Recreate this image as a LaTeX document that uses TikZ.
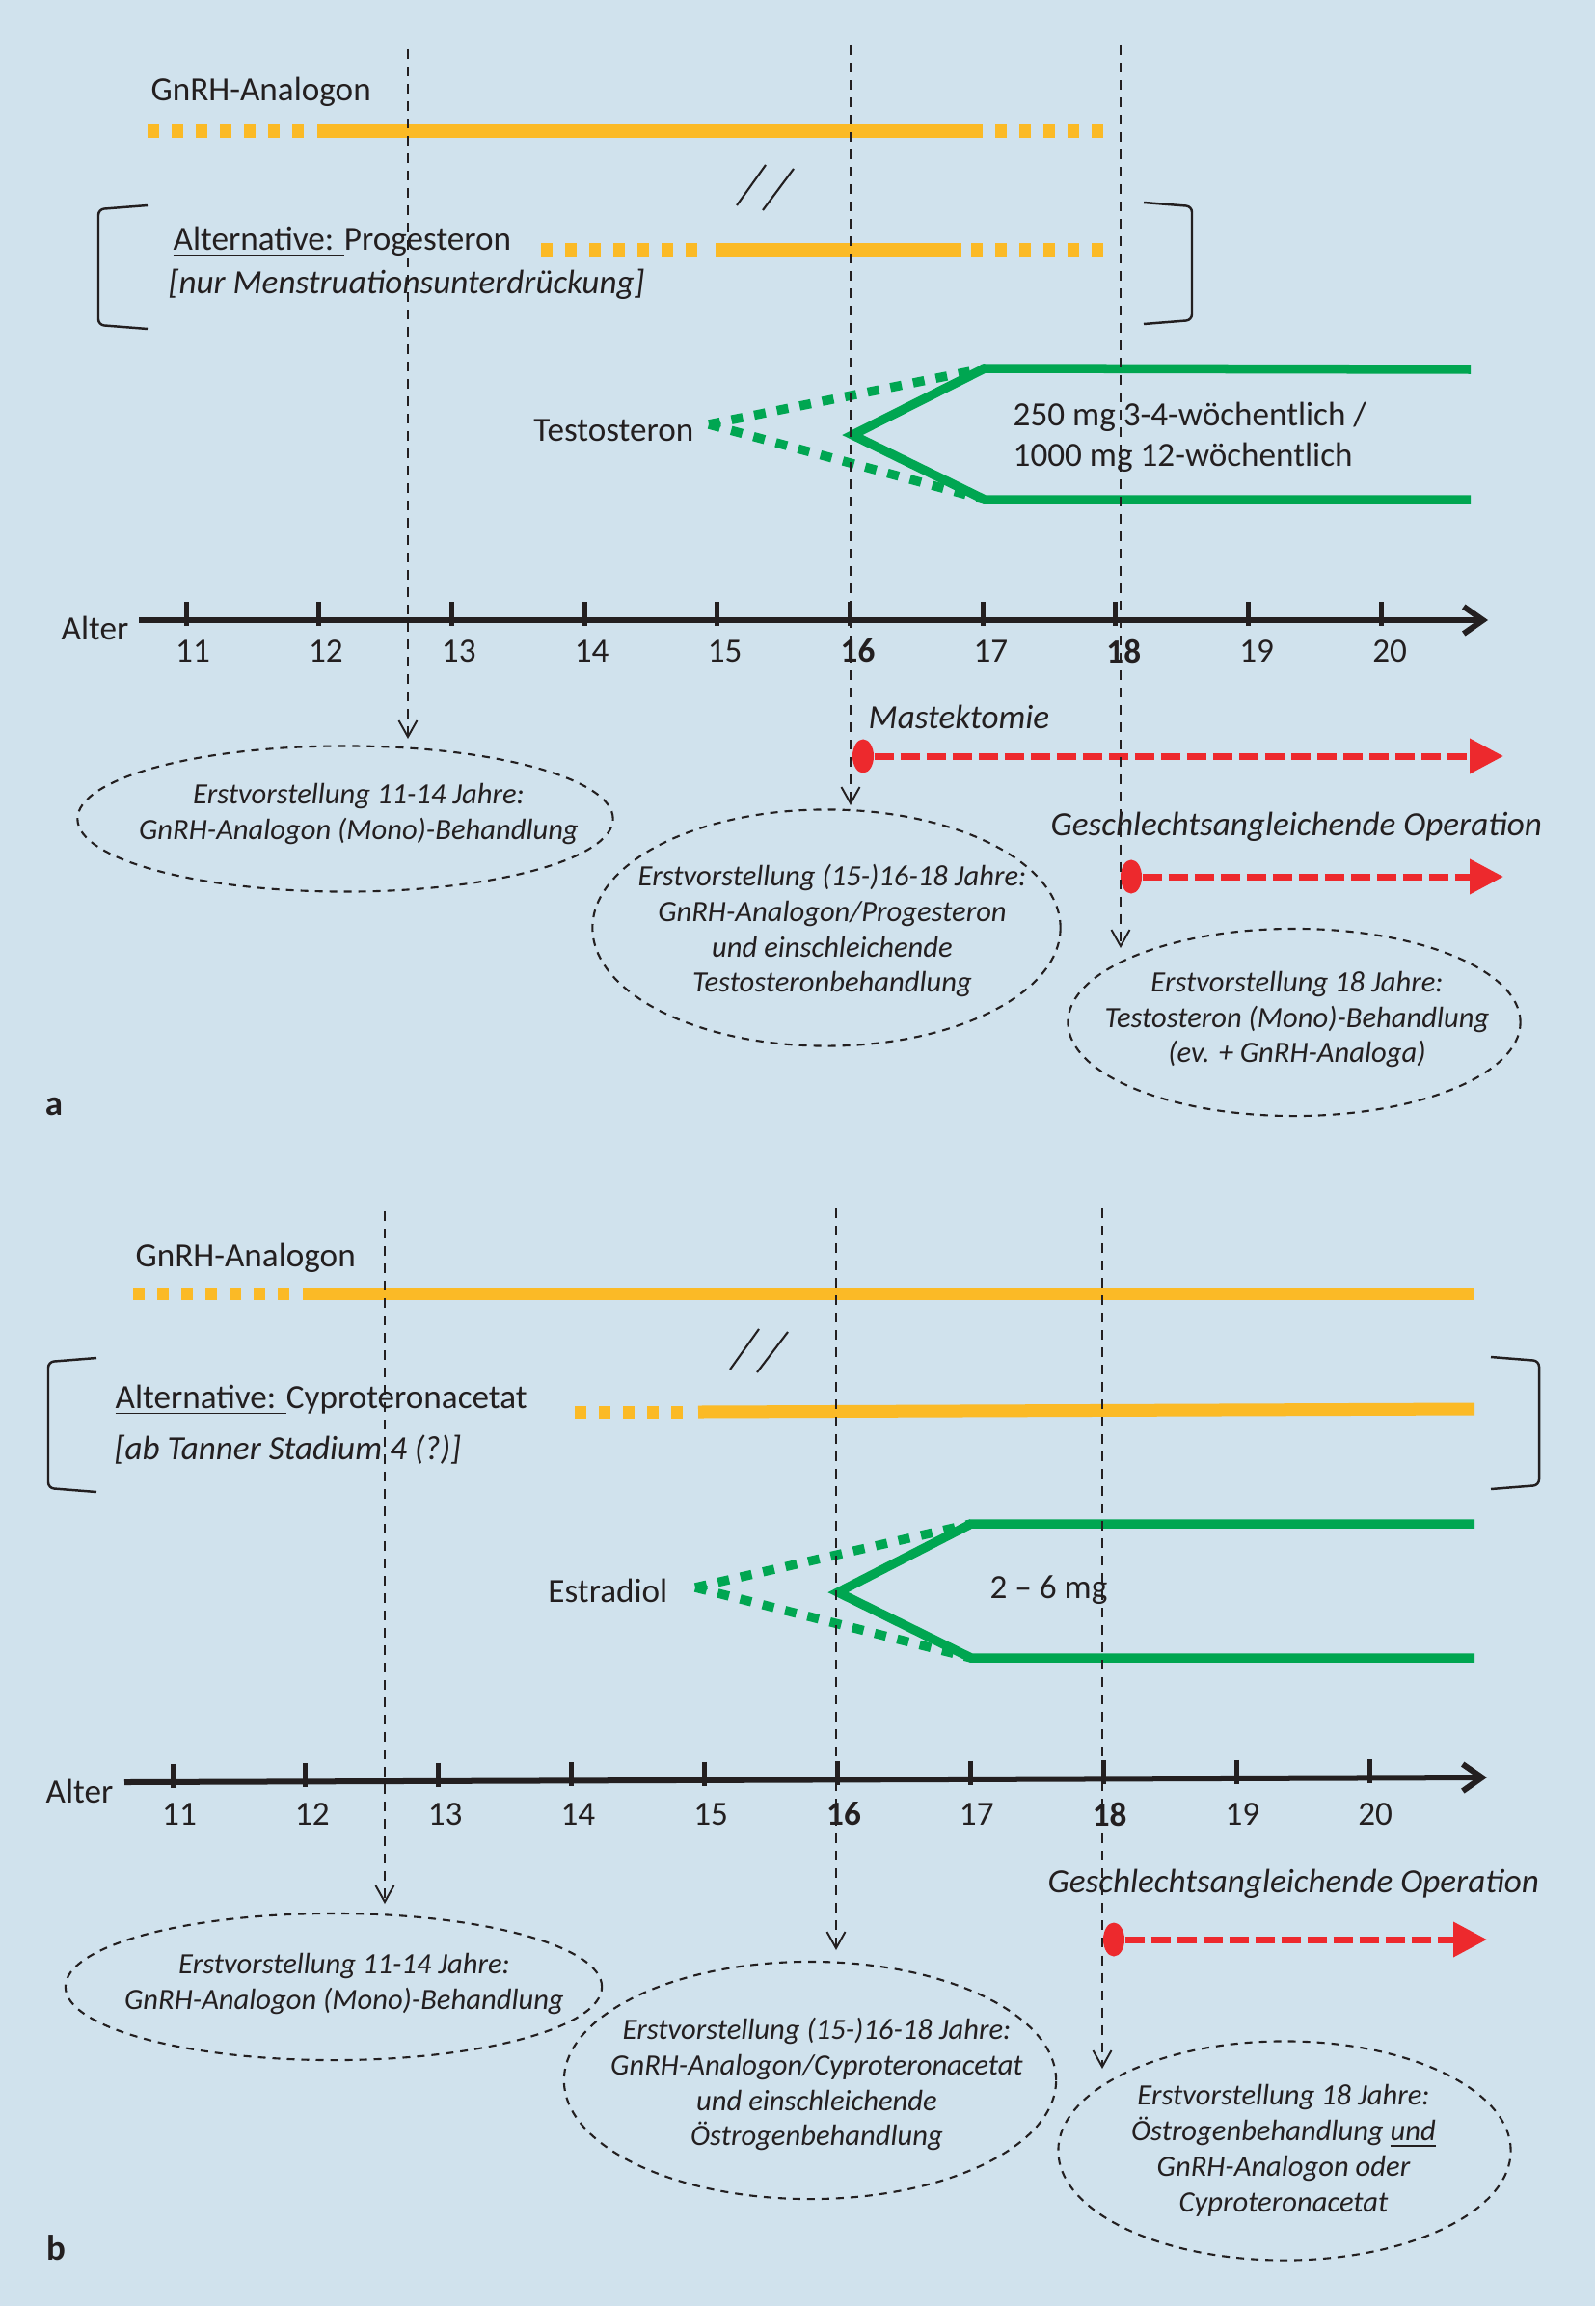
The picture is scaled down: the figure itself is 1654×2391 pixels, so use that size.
\documentclass[tikz,border=0pt]{standalone}
\usepackage{fontspec}
\setmainfont{Carlito}
\usetikzlibrary{arrows.meta,shapes.geometric}

\definecolor{panelbg}{RGB}{208,226,237}
\definecolor{gnrh}{RGB}{251,186,38}
\definecolor{hgreen}{RGB}{0,166,81}
\definecolor{opred}{RGB}{237,41,45}
\definecolor{ink}{RGB}{35,31,32}

\tikzset{
	lab/.style={font=\fontsize{10}{12}\selectfont, inner sep=0, text=ink},
	labit/.style={lab, font=\fontsize{10}{12}\selectfont\itshape},
	note/.style={font=\fontsize{8.7}{10.5}\selectfont\itshape, align=center, inner sep=0, text=ink},
	bar/.style={draw=gnrh, line width=0.13cm},
	bardash/.style={bar, dash pattern=on 0.12cm off 0.13cm},
	hormone/.style={draw=hgreen, line width=0.095cm},
	hormonedash/.style={hormone, dash pattern=on 0.12cm off 0.12cm},
	vline/.style={draw=ink, line width=0.55pt, dash pattern=on 0.1cm off 0.08cm, -{Straight Barb[length=0.17cm,width=0.19cm]}},
	oval/.style={ellipse, draw=ink, line width=0.6pt, dash pattern=on 0.08cm off 0.07cm, inner sep=0},
	surgery/.style={draw=opred, line width=0.07cm, dash pattern=on 0.2cm off 0.07cm, -{Triangle[length=0.35cm,width=0.35cm]}},
	opdot/.style={ellipse, fill=opred, minimum width=0.22cm, minimum height=0.35cm, inner sep=0},
	axis/.style={draw=ink, line width=0.06cm, -{Straight Barb[length=0.2cm,width=0.28cm]}},
	agetick/.style={draw=ink, line width=0.05cm},
	bracket/.style={draw=ink, line width=0.7pt, rounded corners=0.06cm},
	breakmark/.style={draw=ink, line width=0.6pt},
	panel/.style={font=\fontsize{10.5}{12}\selectfont\bfseries, inner sep=0, text=ink}
}

\begin{document}
\begin{tikzpicture}[x=0.01cm, y=-0.01cm]
	\useasboundingbox (0,0) rectangle (1654,2391);
	\fill[panelbg] (0,0) rectangle (1654,2391);

	% ---------- a ----------
	\node[lab, anchor=west] (gnrhA) at (156,95) {GnRH-Analogon};
	\draw[bardash] (153,136) -- (318,136);
	\draw[bar] (329,136) -- (1019,136);
	\draw[bardash] (1032,136) -- (1148,136);

	\draw[breakmark] (764,213) -- (794,171) (791,218) -- (823,175);

	\draw[bracket] (153,213) -- (102,217) -- (102,337) -- (153,341);
	\draw[bracket] (1186,210) -- (1236,214) -- (1236,332) -- (1186,336);
	\node[lab, anchor=west] (altA) at (179,251) {\underline{Alternative: }Progesteron};
	\node[labit, anchor=west] (altnoteA) at (174,295) {[nur Menstruationsunterdrückung]};
	\draw[bardash] (561,259) -- (728,259);
	\draw[bar] (742,259) -- (997,259);
	\draw[bardash] (1007,259) -- (1148,259);

	\node[lab, anchor=east] (testoA) at (720,446) {Testosteron};
	\coordinate (tA) at (735,440);
	\coordinate (upA) at (1021,382);
	\coordinate (loA) at (1021,518);
	\draw[hormonedash] (tA) -- (upA);
	\draw[hormonedash] (tA) -- (loA);
	\draw[hormone] (1525,383) -- (upA) -- (884,451) -- (loA) -- (1525,518);
	\node[lab, anchor=west, align=left] (doseA) at (1050,453) {250 mg 3-4-wöchentlich /\\1000 mg 12-wöchentlich};

	% axis
	\node[lab, anchor=east] (alterA) at (134,651) {Alter};
	\draw[axis] (144,643) -- (1543,643);
	\foreach \a [count=\i from 0] in {11,...,20}{
		\draw[agetick] (193+137.7*\i,624) -- (193+137.7*\i,649);
		\node[lab] (ageA\a) at (200+137.9*\i,675) {\ifnum\a=16 \bfseries\fi\ifnum\a=18 \bfseries\fi\a};
	}

	% operations
	\node[labit, anchor=west] (mastA) at (900,743) {Mastektomie};
	\node[opdot] (mastdotA) at (895,784) {};
	\coordinate (mastendA) at (1559,784);
	\draw[surgery] (mastdotA) -- (mastendA);
	\node[labit, anchor=west] (opA) at (1089,857) {Geschlechtsangleichende Operation};
	\node[opdot] (opdotA) at (1173,909) {};
	\coordinate (opendA) at (1559,909);
	\draw[surgery] (opdotA) -- (opendA);

	% first visits
	\node[oval, minimum width=5.55cm, minimum height=1.51cm] (e1A) at (358,849) {};
	\node[note] (t1A) at (372,844) {Erstvorstellung 11-14 Jahre:\\GnRH-Analogon (Mono)-Behandlung};
	\node[oval, minimum width=4.85cm, minimum height=2.45cm] (e2A) at (857,962) {};
	\node[note] (t2A) at (863,965) {Erstvorstellung (15-)16-18 Jahre:\\GnRH-Analogon/Progesteron\\und einschleichende\\Testosteronbehandlung};
	\node[oval, minimum width=4.69cm, minimum height=1.94cm] (e3A) at (1342,1060) {};
	\node[note] (t3A) at (1345,1057) {Erstvorstellung 18 Jahre:\\Testosteron (Mono)-Behandlung\\(ev. + GnRH-Analoga)};

	\coordinate (v1A) at (423,51);  \coordinate (v1Aend) at (423,766);
	\coordinate (v2A) at (882,47);  \coordinate (v2Aend) at (882,835);
	\coordinate (v3A) at (1162,47); \coordinate (v3Aend) at (1162,983);
	\draw[vline] (v1A) -- (v1Aend);
	\draw[vline] (v2A) -- (v2Aend);
	\draw[vline] (v3A) -- (v3Aend);

	\node[panel] (panelA) at (56,1147) {a};

	% ---------- b ----------
	\node[lab, anchor=west] (gnrhB) at (140,1304) {GnRH-Analogon};
	\draw[bardash] (138,1341) -- (306,1341);
	\draw[bar] (314,1341) -- (1529,1341);

	\draw[breakmark] (757,1420) -- (787,1378) (785,1423) -- (817,1381);

	\draw[bracket] (100,1408) -- (50,1412) -- (50,1543) -- (100,1547);
	\draw[bracket] (1546,1407) -- (1596,1411) -- (1596,1540) -- (1546,1544);
	\node[lab, anchor=west] (altB) at (119,1452) {\underline{Alternative: }Cyproteronacetat};
	\node[labit, anchor=west] (altnoteB) at (118,1503) {[ab Tanner Stadium 4 (?)]};
	\draw[bardash] (596,1464) -- (712,1464);
	\draw[bar] (724,1464) -- (1529,1461);

	\node[lab, anchor=east] (estraB) at (693,1649) {Estradiol};
	\coordinate (tB) at (721,1646);
	\coordinate (upB) at (1007,1580);
	\coordinate (loB) at (1007,1719);
	\draw[hormonedash] (tB) -- (upB);
	\draw[hormonedash] (tB) -- (loB);
	\draw[hormone] (1529,1580) -- (upB) -- (869,1651) -- (loB) -- (1529,1719);
	\node[lab, anchor=west] (doseB) at (1026,1649) {2 – 6 mg};

	% axis
	\node[lab, anchor=east] (alterB) at (118,1857) {Alter};
	\draw[axis] (129,1848) -- (1542,1843);
	\foreach \a [count=\i from 0] in {11,...,20}{
		\draw[agetick] (179+137.9*\i,1828.8-0.49*\i) -- (179+137.9*\i,1853.8-0.49*\i);
		\node[lab] (ageB\a) at (186+137.8*\i,1881) {\ifnum\a=16 \bfseries\fi\ifnum\a=18 \bfseries\fi\a};
	}

	% operation
	\node[labit, anchor=west] (opB) at (1086,1953) {Geschlechtsangleichende Operation};
	\node[opdot] (opdotB) at (1155,2011) {};
	\coordinate (opendB) at (1542,2011);
	\draw[surgery] (opdotB) -- (opendB);

	% first visits
	\node[oval, minimum width=5.56cm, minimum height=1.52cm] (e1B) at (346,2060) {};
	\node[note] (t1B) at (357,2057) {Erstvorstellung 11-14 Jahre:\\GnRH-Analogon (Mono)-Behandlung};
	\node[oval, minimum width=5.10cm, minimum height=2.46cm] (e2B) at (840,2157) {};
	\node[note] (t2B) at (847,2161) {Erstvorstellung (15-)16-18 Jahre:\\GnRH-Analogon/Cyproteronacetat\\und einschleichende\\Östrogenbehandlung};
	\node[oval, minimum width=4.69cm, minimum height=2.27cm] (e3B) at (1332,2230) {};
	\node[note] (t3B) at (1331,2230) {Erstvorstellung 18 Jahre:\\Östrogenbehandlung \underline{und}\\GnRH-Analogon oder\\Cyproteronacetat};

	\coordinate (v1B) at (399,1256);  \coordinate (v1Bend) at (399,1974);
	\coordinate (v2B) at (867,1253);  \coordinate (v2Bend) at (867,2022);
	\coordinate (v3B) at (1143,1253); \coordinate (v3Bend) at (1143,2145);
	\draw[vline] (v1B) -- (v1Bend);
	\draw[vline] (v2B) -- (v2Bend);
	\draw[vline] (v3B) -- (v3Bend);

	\node[panel] (panelB) at (58,2331) {b};
\end{tikzpicture}
\end{document}
